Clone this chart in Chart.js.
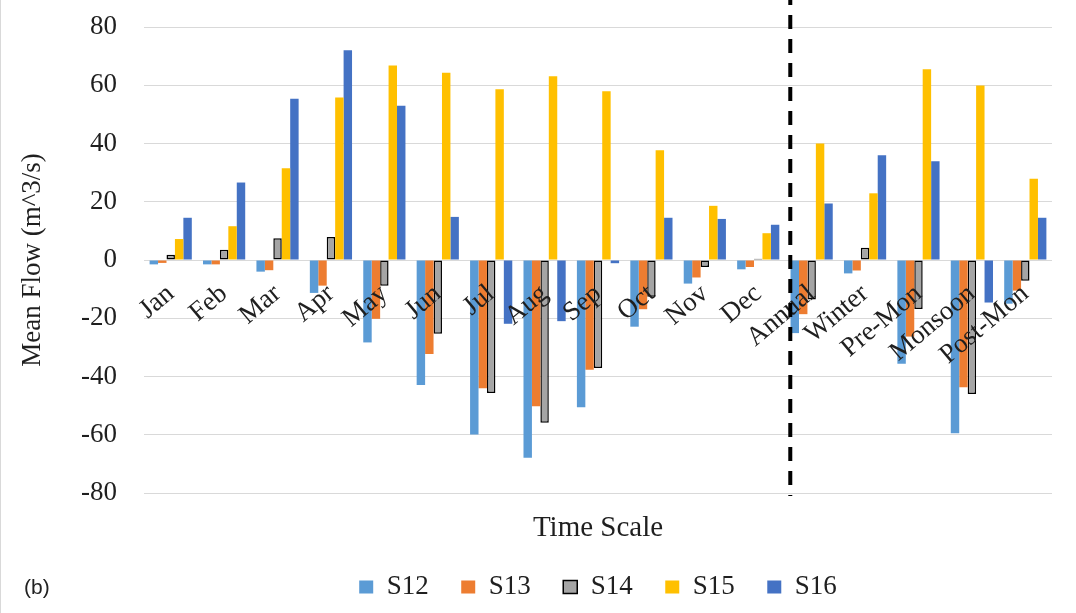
<!DOCTYPE html>
<html>
<head>
<meta charset="utf-8">
<script src="https://cdn.jsdelivr.net/npm/chart.js@4.4.1/dist/chart.umd.min.js"></script>
<style>
html,body{margin:0;padding:0;background:#fff;overflow:hidden}
#wrap{width:1076px;height:613px;position:relative}
</style>
</head>
<body>
<div id="wrap"><canvas id="c"></canvas></div>
<script>
// ---- data ----
const categories = ['Jan','Feb','Mar','Apr','May','Jun','Jul','Aug','Sep','Oct','Nov','Dec','Annual','Winter','Pre-Mon','Monsoon','Post-Mon'];
const seriesNames = ['S12','S13','S14','S15','S16'];
const s12 = [-1.5,-1.5,-4,-11.3,-28.3,-42.9,-59.9,-67.9,-50.6,-22.9,-8.1,-3.2,-25.1,-4.6,-35.6,-59.5,-15];
const s13 = [-1,-1.5,-3.5,-8.8,-20.2,-32.3,-44,-50.2,-37.7,-16.9,-6,-2.4,-18.6,-3.6,-26.3,-43.7,-10.5];
const s14 = [1.8,3.5,7.5,7.9,-8.8,-25.3,-45.7,-55.9,-37.1,-12.6,-2.4,0.4,-13.6,4.2,-16.8,-46,-7.1];
const s15 = [7.2,11.6,31.5,55.8,66.8,64.3,58.6,63.1,57.9,37.7,18.6,9.2,40,22.9,65.5,59.9,27.9];
const s16 = [14.5,26.6,55.4,72,53,14.8,-21.9,-21,-1.1,14.5,14.1,12.1,19.4,36,33.9,-14.6,14.5];
const yTickValues = [-80,-60,-40,-20,0,20,40,60,80];
const yTitle = 'Mean Flow (m^3/s)';
const xTitle = 'Time Scale';
const panelLabel = '(b)';
const dividerAt = 11.6; // between "Dec" and "Annual"

// ---- styles ----
const seriesData = [s12, s13, s14, s15, s16];
const colors = ['#5B9BD5','#ED7D31','#A5A5A5','#FFC000','#4472C4'];
const serif = "'Liberation Serif','Times New Roman',serif";
const textColor = '#1f1f1f';

const decor = {
  id: 'decor',
  afterDraw(chart) {
    const ctx = chart.ctx;
    const x = chart.scales.x.getPixelForValue(dividerAt);
    ctx.save();
    ctx.strokeStyle = '#000';
    ctx.lineWidth = 4;
    ctx.setLineDash([14, 10]);
    ctx.beginPath();
    ctx.moveTo(x, chart.chartArea.top - 36);
    ctx.lineTo(x, chart.chartArea.bottom + 3);
    ctx.stroke();
    ctx.setLineDash([]);
    ctx.fillStyle = '#d9d9d9';
    ctx.fillRect(0, 0, 1, chart.height);
    ctx.fillStyle = '#222';
    ctx.font = "21px 'Liberation Sans', Arial, sans-serif";
    ctx.textBaseline = 'middle';
    ctx.textAlign = 'left';
    ctx.fillText(panelLabel, 24, 588);
    ctx.restore();
  }
};

new Chart(document.getElementById('c'), {
  type: 'bar',
  data: {
    labels: categories,
    datasets: seriesNames.map((name, i) => ({
      label: name,
      data: seriesData[i],
      backgroundColor: colors[i],
      borderColor: '#000',
      borderWidth: i === 2 ? 1.5 : 0,
      borderSkipped: i === 2 ? false : 'start',
      categoryPercentage: 0.79,
      barPercentage: 1.0
    }))
  },
  options: {
    responsive: true,
    maintainAspectRatio: false,
    animation: false,
    layout: { padding: { top: 27, right: 24, bottom: 2.5, left: 0 } },
    plugins: {
      tooltip: { enabled: false },
      legend: {
        position: 'bottom',
        fullSize: false,
        labels: {
          boxWidth: 14,
          boxHeight: 13,
          padding: 32.5,
          color: textColor,
          font: { family: serif, size: 27, lineHeight: 1 }
        },
        title: {
          display: true,
          text: xTitle,
          color: textColor,
          font: { family: serif, size: 29, lineHeight: 1 },
          padding: { top: 21, bottom: -2 }
        }
      }
    },
    scales: {
      x: {
        type: 'category',
        position: { y: 0 },
        grid: { display: false, drawTicks: false },
        border: { display: false },
        ticks: {
          z: 1,
          autoSkip: false,
          minRotation: 40,
          maxRotation: 40,
          padding: 18,
          color: textColor,
          font: { family: serif, size: 27 }
        }
      },
      y: {
        min: -80,
        max: 80,
        afterBuildTicks: (s) => { s.ticks = yTickValues.map(v => ({ value: v })); },
        afterFit: (s) => { s.width = 144; },
        grid: { color: '#d9d9d9', lineWidth: 1, drawTicks: true, tickLength: 27, tickColor: 'rgba(0,0,0,0)' },
        border: { display: false },
        ticks: { padding: 0, color: textColor, font: { family: serif, size: 27 } },
        title: {
          display: true,
          text: yTitle,
          color: textColor,
          font: { family: serif, size: 27, lineHeight: 1 },
          padding: { top: 19.5, bottom: 0 }
        }
      }
    }
  },
  plugins: [decor]
});
</script>
</body>
</html>
